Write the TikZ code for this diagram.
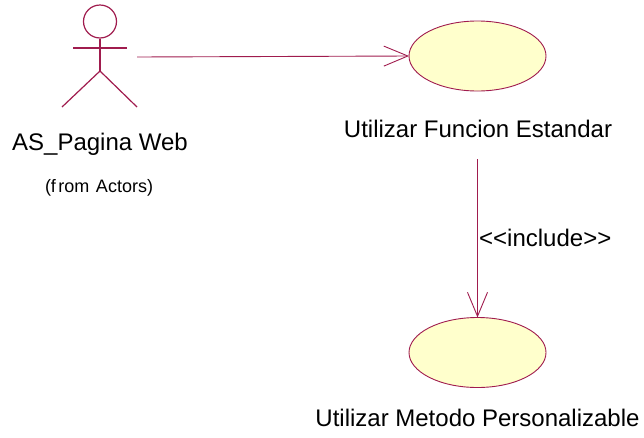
\documentclass[tikz,border=0pt]{standalone}
\usepackage{fontspec}
\setmainfont{Liberation Sans}
\usetikzlibrary{shapes.geometric,arrows.meta}
\definecolor{umlline}{RGB}{160,28,78}
\definecolor{umlfill}{RGB}{255,255,204}
\tikzset{
  usecase/.style={ellipse, draw=umlline, fill=umlfill, line width=0.9pt,
    minimum width=137pt, minimum height=70pt, inner sep=0pt, outer sep=0pt},
  actorline/.style={draw=umlline, line width=1.2pt},
  conn/.style={draw=umlline, line width=0.9pt,
    -{Straight Barb[length=24pt,width=20pt,line width=0.9pt]}},
  biglabel/.style={font=\fontsize{24}{27}\selectfont, inner sep=0pt},
  smalllabel/.style={font=\fontsize{18}{21}\selectfont, inner sep=0pt},
}
\begin{document}
\begin{tikzpicture}[x=1pt,y=-1pt]
\useasboundingbox (0,0) rectangle (644,437);

% actor stick figure
\node[circle, draw=umlline, line width=1.2pt, minimum size=33pt, inner sep=0pt] (head) at (100,21.5) {};
\coordinate (hip) at (100,71);
\coordinate (lhand) at (73,48);
\coordinate (rhand) at (127,48);
\coordinate (lfoot) at (62,107);
\coordinate (rfoot) at (137,107);
\draw[actorline] (head.south) -- (hip);
\draw[actorline] (lhand) -- (rhand);
\draw[actorline] (lfoot) -- (hip) -- (rfoot);
\node[biglabel] (actorname) at (100,144) {AS\_Pagina Web};
\node[smalllabel] (actorpkg) at (99,188) {(f\kern2.5pt rom\kern1.5pt{} Actors)};

% use cases
\node[usecase] (uc1) at (477.5,56) {};
\node[biglabel] (uc1name) at (478,129) {Utilizar Funcion Estandar};
\node[usecase] (uc2) at (477.5,352.5) {};
\node[biglabel] (uc2name) at (477.5,418) {Utilizar Metodo Personalizable};

% connectors
\coordinate (assocstart) at (137,57);
\draw[conn] (assocstart) -- (uc1.west);
\coordinate (inclstart) at (477.5,159);
\draw[conn] (inclstart) -- (uc2.north);
\node[biglabel, anchor=west] (incl) at (479,238) {{<}{<}include{>}{>}};
\end{tikzpicture}
\end{document}
